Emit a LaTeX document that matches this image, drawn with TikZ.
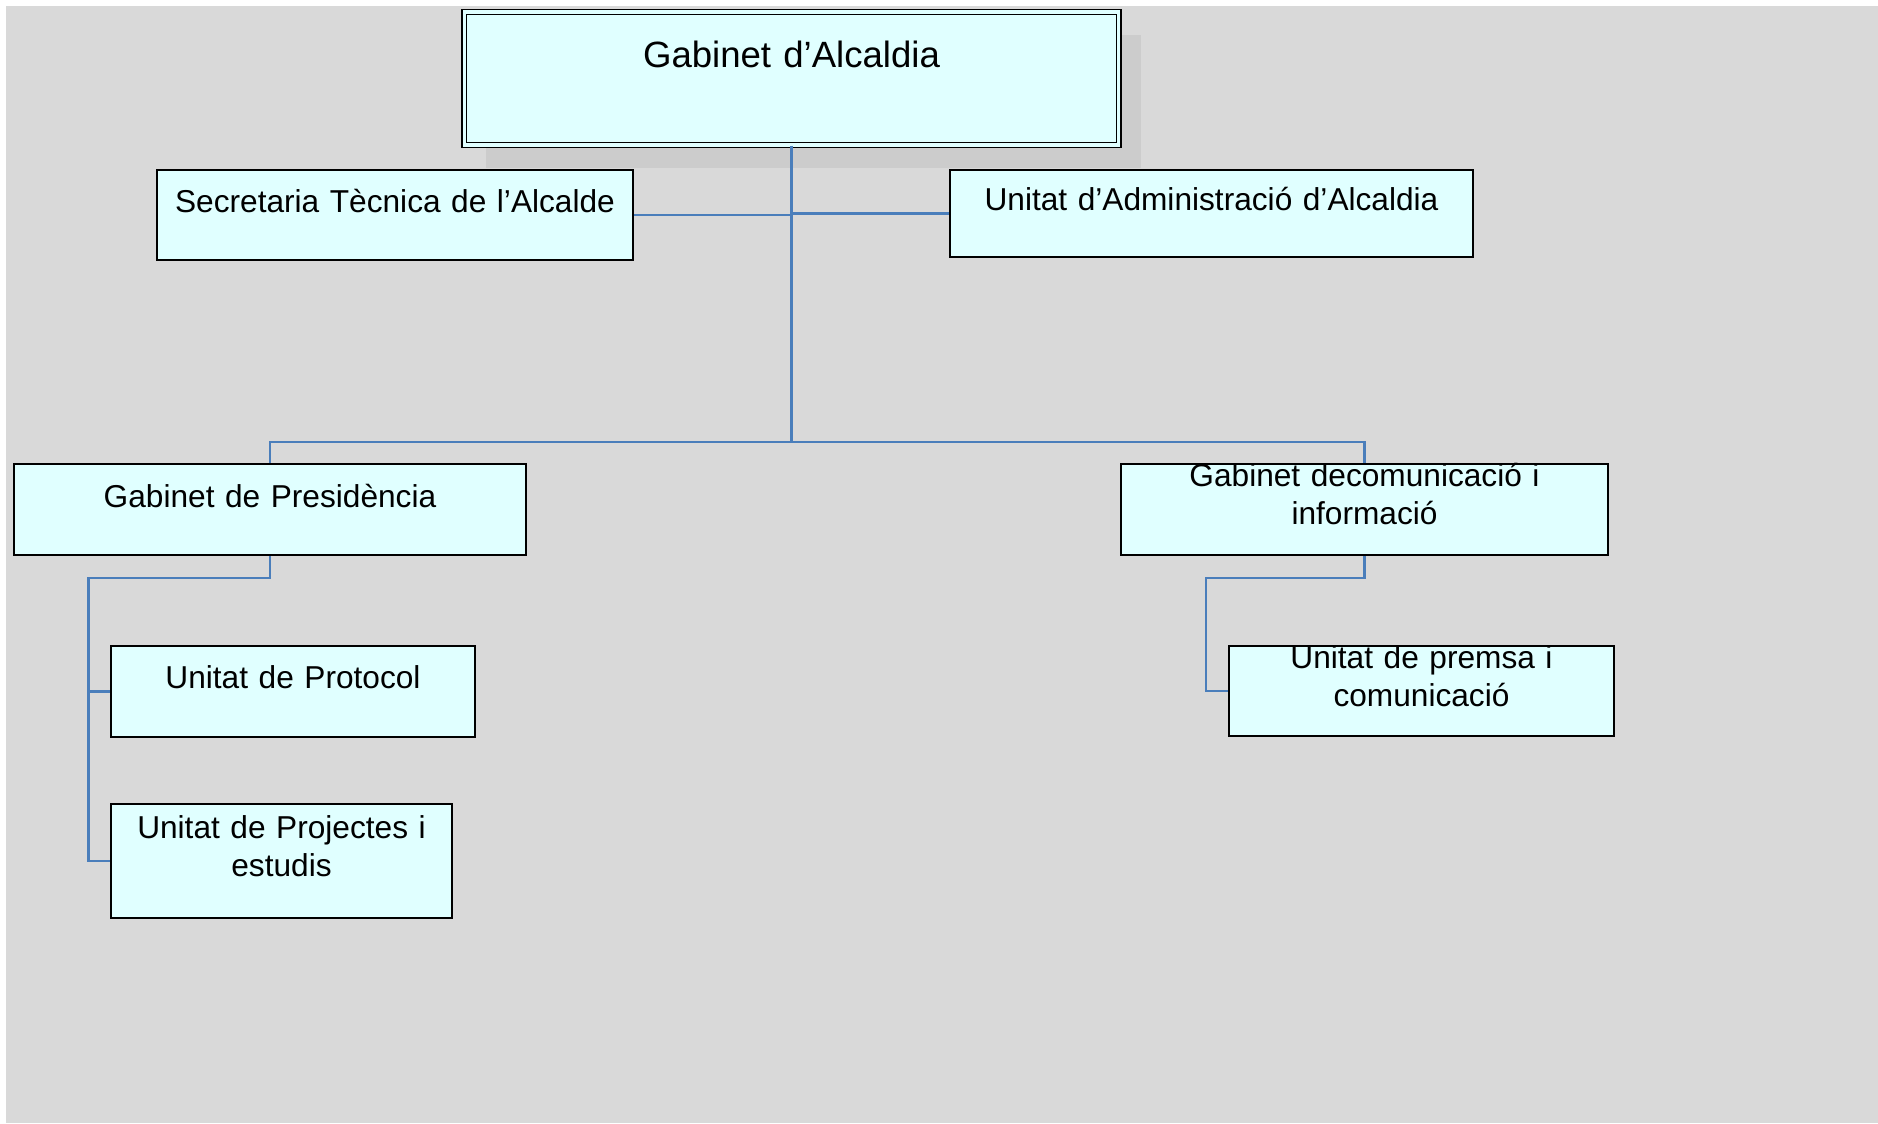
\documentclass[tikz,border=0pt]{standalone}
\usepackage{fontspec}
\setmainfont{Liberation Sans}
\usetikzlibrary{shadows,calc}
\definecolor{bggray}{RGB}{217,217,217}
\definecolor{shadowgray}{RGB}{204,204,204}
\definecolor{boxfill}{RGB}{224,255,255}
\definecolor{linkblue}{RGB}{74,126,187}

\begin{document}
\begin{tikzpicture}[
    x=0.01cm, y=-0.01cm,
    box/.style={draw, fill=boxfill, line width=0.55pt, inner sep=0pt, align=center, font=\fontsize{9}{11}\selectfont},
    head/.style={box, line width=0.45pt, double=boxfill, double distance=0.9pt, font=\fontsize{10.4}{12.5}\selectfont,
        drop shadow={shadow xshift=0.22cm, shadow yshift=-0.23cm, fill=shadowgray, opacity=1}},
    link/.style={draw=linkblue, line width=0.6pt}
]
    \useasboundingbox[fill=white] (0,0) rectangle (1878,1123);
    \fill[bggray] (6,6) rectangle (1878,1123);

    \node[head, text width=6.54cm, text height=0.55cm, text depth=0.78cm] (alc) at (791.5,78.5) {Gabinet d’Alcaldia};

    \node[box, text width=4.76cm, text height=0.42cm, text depth=0.48cm] (secr) at (395,215) {Secretaria Tècnica de l’Alcalde};
    \node[box, text width=5.23cm, text height=0.40cm, text depth=0.47cm] (admin) at (1211.5,213.5) {Unitat d’Administració d’Alcaldia};

    \node[box, text width=5.12cm, text height=0.43cm, text depth=0.48cm] (pres) at (270,509.5) {Gabinet de Presidència};
    \node[box, text width=4.87cm, text height=0.22cm, text depth=0.69cm] (com) at (1364.5,509.5) {Gabinet decomunicació i\\informació};

    \node[box, text width=3.64cm, text height=0.42cm, text depth=0.49cm] (prot) at (293,691.5) {Unitat de Protocol};
    \node[box, text width=3.41cm, text height=0.34cm, text depth=0.80cm] (proj) at (281.5,861) {Unitat de Projectes i\\estudis};
    \node[box, text width=3.85cm, text height=0.22cm, text depth=0.68cm] (prem) at (1421.5,691) {Unitat de premsa i\\comunicació};

    % connectors
    \coordinate (hub) at (791.5,442);
    \coordinate (presbus) at (88.5,578);
    \coordinate (combus) at (1206,578);

    \draw[link] (alc.south) -- (hub);
    \draw[link] (secr.east) -- (secr.east -| alc.south);
    \draw[link] (admin.west) -- (admin.west -| alc.south);
    \draw[link] (pres.north) |- (hub) -| (com.north);
    \draw[link] (pres.south) |- (presbus) |- (proj.west);
    \draw[link] (presbus |- prot.west) -- (prot.west);
    \draw[link] (com.south) |- (combus) |- (prem.west);
\end{tikzpicture}
\end{document}
